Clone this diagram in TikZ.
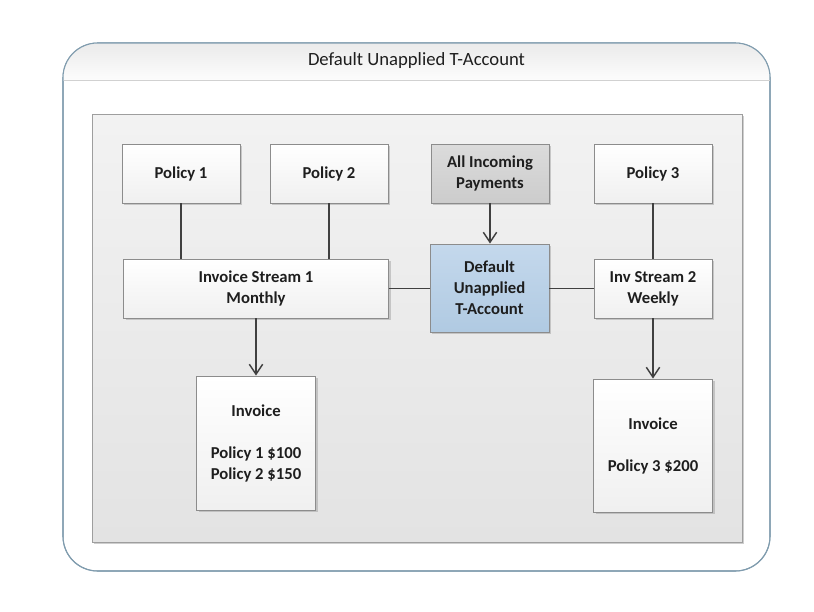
\documentclass[tikz,border=0pt]{standalone}
\usepackage{fontspec}
\setmainfont{Carlito}
\usetikzlibrary{shadows,arrows.meta}
\definecolor{outerc}{RGB}{128,156,174}
\definecolor{boxc}{RGB}{140,140,140}
\definecolor{linec}{RGB}{64,64,64}
\definecolor{txtc}{RGB}{30,30,30}
\definecolor{bluetop}{RGB}{196,216,236}
\definecolor{bluebot}{RGB}{176,202,226}
\tikzset{
  shad/.style={drop shadow={shadow xshift=1.6pt,shadow yshift=-1.6pt,fill=black!35,opacity=0.55}},
  box/.style={draw=boxc, line width=0.7pt, shad, top color=white, bottom color=black!6,
    text=txtc, align=center, inner sep=0pt,
    font=\fontsize{12.5}{15.75}\selectfont\bfseries,
    minimum width=88.5pt, minimum height=44.25pt},
  graybox/.style={box, top color=black!14, bottom color=black!20},
  bluebox/.style={box, top color=bluetop, bottom color=bluebot},
  panel/.style={draw=black!38, line width=0.7pt, shad, top color=black!5, bottom color=black!11,
    minimum width=487.5pt, minimum height=321pt, inner sep=0pt},
  conn/.style={draw=linec, line width=1.1pt},
  arr/.style={conn, -{Straight Barb[length=7.5pt,width=10pt]}},
}
\begin{document}
\begin{tikzpicture}[x=0.75pt,y=-0.75pt]
\useasboundingbox (0,0) rectangle (814,611);
% outer container
\path[fill=white, draw=outerc, line width=0.8pt, rounded corners=26pt] (63,43) rectangle (770,571);
\begin{scope}
  \clip[rounded corners=26pt] (63,43) rectangle (770,571);
  \shade[top color=black!8, bottom color=black!1] (63,43) rectangle (770,80);
\end{scope}
\path[draw=outerc, line width=0.8pt, rounded corners=26pt] (63,43) rectangle (770,571);
\draw[black!18, line width=1.4pt] (63.5,80.5) -- (769.5,80.5);
\node[text=txtc, font=\fontsize{14}{16}\selectfont] (title) at (416.5,61) {Default Unapplied T-Account};
% inner panel
\node[panel] (panel) at (417,328) {};
% nodes
\node[box] (p1) at (181,173.5) {Policy 1};
\node[box] (p2) at (329,173.5) {Policy 2};
\node[graybox] (pay) at (490,173.5) {All Incoming\\Payments};
\node[box] (p3) at (653,173.5) {Policy 3};
\node[box, minimum width=198.75pt] (is1) at (256,288.5) {Invoice Stream 1\\Monthly};
\node[bluebox, minimum width=89.25pt, minimum height=66pt] (dua) at (489.5,288) {Default\\Unapplied\\T-Account};
\node[box] (is2) at (653,288.5) {Inv Stream 2\\Weekly};
\node[box, minimum width=89.25pt, minimum height=100.5pt] (inv1) at (256,443) {Invoice\\[15.75pt]Policy 1 \$100\\Policy 2 \$150};
\node[box, minimum width=89.25pt, minimum height=99.75pt] (inv2) at (653,445.5) {Invoice\\[15.75pt]Policy 3 \$200};
% connectors
\draw[conn] (p1.south) -- (p1.south |- is1.north);
\draw[conn] (p2.south) -- (p2.south |- is1.north);
\draw[conn] (p3.south) -- (p3.south |- is2.north);
\draw[arr] (pay.south) -- (pay.south |- dua.north);
\draw[conn] (is1.east) -- (is1.east -| dua.west);
\draw[conn] (dua.east |- is2.west) -- (is2.west);
\draw[arr] (is1.south) -- (inv1.north);
\draw[arr] (is2.south) -- (inv2.north);
\end{tikzpicture}
\end{document}
